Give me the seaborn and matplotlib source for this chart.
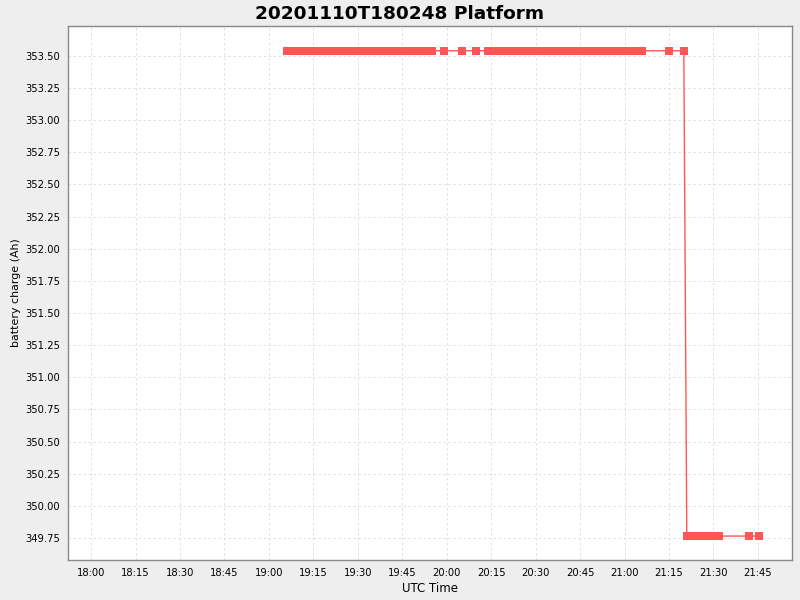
import matplotlib
matplotlib.use("Agg")
import matplotlib.pyplot as plt
import matplotlib.dates as mdates
import seaborn as sns
import pandas as pd

# minutes after 18:00 UTC on 2020-11-10
minutes_high = [66, 67, 68, 69, 70, 71, 72, 73, 74, 75, 76, 77, 78, 79, 80, 81, 82, 83, 84, 85,
                86, 87, 88, 89, 90, 91, 92, 93, 94, 95, 96, 97, 98, 99, 100, 101, 102, 103, 104, 105,
                106, 107, 108, 109, 110, 111, 112, 113, 114, 115,
                119, 125, 130,
                134, 135, 136, 137, 138, 139, 140, 141, 142, 143, 144, 145, 146, 147, 148, 149, 150,
                151, 152, 153, 154, 155, 156, 157, 158, 159, 160, 161, 162, 163, 164, 165, 166, 167,
                168, 169, 170, 171, 172, 173, 174, 175, 176, 177, 178, 179, 180, 181, 182, 183, 184,
                185, 186,
                195, 200]
charge_high = 353.54
minutes_low = [201, 202, 203, 204, 205, 206, 207, 208, 209, 210, 211, 212, 222, 225.5]
charge_low = 349.765

title = "20201110T180248 Platform"
xlabel = "UTC Time"
ylabel = "battery charge (Ah)"
yticks = [349.75, 350.00, 350.25, 350.50, 350.75, 351.00, 351.25, 351.50, 351.75,
          352.00, 352.25, 352.50, 352.75, 353.00, 353.25, 353.50]

start = pd.Timestamp("2020-11-10 18:00")
mins = minutes_high + minutes_low
vals = [charge_high] * len(minutes_high) + [charge_low] * len(minutes_low)
df = pd.DataFrame({"time": start + pd.to_timedelta(mins, unit="min"), "charge": vals})

sns.set_style("white")
plt.rcParams["font.family"] = ["DejaVu Sans"]

fig = plt.figure(figsize=(8, 6), dpi=100, facecolor="#EEEEEE")
ax = fig.add_axes([0.085, 0.0667, 0.905, 0.89])
ax.set_facecolor("white")

sns.lineplot(data=df, x="time", y="charge", ax=ax, color="#FF5555", linewidth=1.0,
             marker="s", markersize=5.2, markeredgewidth=0, markerfacecolor="#FF5555",
             estimator=None, sort=False)

ax.set_xlim(start - pd.Timedelta(minutes=7.8), start + pd.Timedelta(minutes=236.5))
ax.set_ylim(349.579, 353.733)
ax.set_yticks(yticks)
ax.yaxis.set_major_formatter(matplotlib.ticker.FormatStrFormatter("%.2f"))
ax.xaxis.set_major_locator(mdates.MinuteLocator(byminute=[0, 15, 30, 45]))
ax.xaxis.set_major_formatter(mdates.DateFormatter("%H:%M"))

ax.grid(True, color="#DCDCDC", linestyle=(0, (3, 3)), linewidth=0.6)
for s in ax.spines.values():
    s.set_color("#888888")
    s.set_linewidth(1.0)
ax.tick_params(axis="both", direction="out", length=4, width=0.8, color="#888888",
               labelsize=7.2, labelcolor="#000000", pad=1.5)

ax.set_xlabel(xlabel, fontsize=8.5, color="#000000", labelpad=3)
ax.set_ylabel(ylabel, fontsize=7.9, color="#000000", labelpad=3)
fig.suptitle(title, x=0.5, y=0.992, fontsize=13.3, fontweight="bold", color="#000000",
             va="top")

fig.savefig("out.png", dpi=100, facecolor=fig.get_facecolor())
